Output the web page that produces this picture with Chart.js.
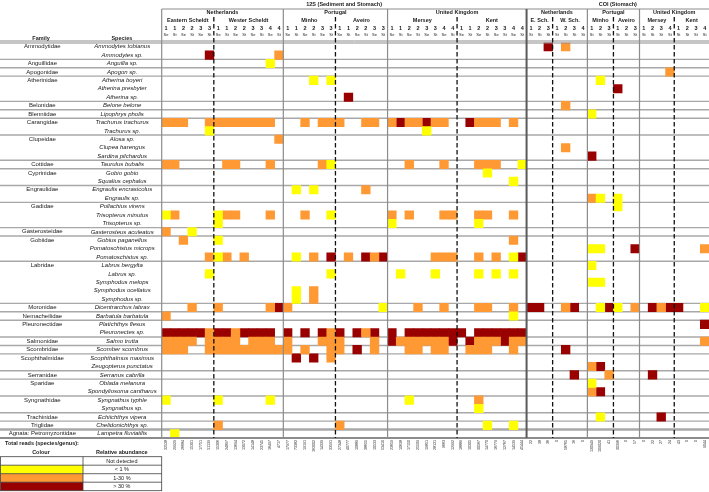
<!DOCTYPE html>
<html>
<head>
<meta charset="utf-8">
<title>Fish detections (12S and COI)</title>
<script src="https://cdn.jsdelivr.net/npm/chart.js@4.4.1/dist/chart.umd.min.js"></script>
<style>
html,body{margin:0;padding:0;background:#ffffff;}
canvas{display:block;}
</style>
</head>
<body>
<canvas id="chart" width="709" height="492"></canvas>
<script>
// ---------------- data ----------------
const familyNames = ['Ammodytidae','Anguillidae','Apogonidae','Atherinidae','Belonidae','Blenniidae','Carangidae','Clupeidae','Cottidae','Cyprinidae','Engraulidae','Gadidae','Gasterosteidae','Gobiidae','Labridae','Moronidae','Nemacheilidae','Pleuronectidae','Salmonidae','Scombridae','Scophthalmidae','Serranidae','Sparidae','Syngnathidae','Trachinidae','Triglidae','Agnata: Petromyzontidae'];
const familySizes = [2,1,1,3,1,1,2,3,1,2,2,3,1,3,5,1,1,2,1,1,2,1,2,2,1,1,1];
const species = ['Ammodytes tobianus','Ammodytes sp.','Anguilla sp.','Apogon sp.','Atherina boyeri','Atherina presbyter','Atherina sp.','Belone belone','Lipophrys pholis','Trachurus trachurus','Trachurus sp.','Alosa sp.','Clupea harengus','Sardina pilchardus','Taurulus bubalis','Gobio gobio','Squalius cephalus','Engraulis encrasicolus','Engraulis sp.','Pollachius virens','Trisopterus minutus','Trisopterus sp.','Gasterosteus aculeatus','Gobius paganellus','Pomatoschistus microps','Pomatoschistus sp.','Labrus bergylta','Labrus sp.','Symphodus melops','Symphodus ocellatus','Symphodus sp.','Dicentrarchus labrax','Barbatula barbatula','Platichthys flesus','Pleuronectes sp.','Salmo trutta','Scomber scombrus','Scophthalmus maximus','Zeugopterus punctatus','Serranus cabrilla','Oblada melanura','Spondyliosoma cantharus','Syngnathus typhle','Syngnathus sp.','Echiichthys vipera','Chelidonichthys sp.','Lampetra fluviatilis'];

const primers = ['12S (Sediment and Stomach)','COI (Stomach)'];
const primerCountries = [3,3];
const countries = ['Netherlands','Portugal','United Kingdom','Netherlands','Portugal','United Kingdom'];
const countrySites = [2,2,2,2,2,2];
const sites = ['Eastern Scheldt','Wester Scheldt','Minho','Aveiro','Mersey','Kent','E. Sch.','W. Sch.','Minho','Aveiro','Mersey','Kent'];
const siteSamples = [3,4,3,3,4,4,3,4,3,3,4,4];
const siteSampleTypes = [['Se','St'],['Se','St'],['Se','St'],['Se','St'],['Se','St'],['Se','St'],['St'],['St'],['St'],['St'],['St'],['St']];

const totalReads = [32538,29929,26684,15301,17751,51139,15306,24897,13694,13072,14148,23745,16497,4717,
  17977,73382,19191,163002,14339,33591,27348,40777,10889,38655,10533,53410,
  23659,10638,17150,25509,19851,28131,9663,12992,18889,10305,30567,14770,16779,12767,14539,45444,
  22,38,36,0,58765,16,0,130949,109020,41,30396,0,57,0,22,27,24,43,0,0,9044];

const abundanceClasses = ['Not detected','< 1 %','1-30 %','> 30 %'];
const classColours = ['#FFFFFF','#FFFF00','#FF9933','#990000'];

// one string per species; 0 = not detected, 1 = <1 %, 2 = 1-30 %, 3 = >30 %
//   ES     WS       Mi     Av     Me       Ke       cE  cW   cMi cAv cMe  cKe
const abundance = [
  '000000 00000000 000000 000000 00000000 00000000 003 0200 000 000 0000 0000',
  '000003 00000002 000000 000000 00000000 00000000 000 0000 000 000 0000 0000',
  '000000 00000010 000000 000000 00000000 00000000 000 0000 000 000 0000 0000',
  '000000 00000000 000000 000000 00000000 00000000 000 0000 000 000 0002 0000',
  '000000 00000000 000101 000000 00000000 00000000 000 0000 010 000 0000 0000',
  '000000 00000000 000000 000000 00000000 00000000 000 0000 000 300 0000 0000',
  '000000 00000000 000000 030000 00000000 00000000 000 0000 000 000 0000 0000',
  '000000 00000000 000000 000000 00000000 00000000 000 0200 000 000 0000 0000',
  '000000 00000000 000000 000000 00000000 00000000 000 0000 100 000 0000 0000',
  '222002 22222220 002022 200220 23223220 03222020 000 0000 000 000 0000 0000',
  '000001 00000000 000000 000000 00001000 00000000 000 0000 000 000 0000 0000',
  '000000 00000002 000000 000000 00000000 00000000 000 0000 000 000 0000 0000',
  '000000 00000000 000000 000000 00000000 00000000 000 0200 000 000 0000 0000',
  '000000 00000000 000000 000000 00000000 00000000 000 0000 300 000 0000 0000',
  '220000 02200020 000021 000000 00200020 00222001 000 0000 000 000 0000 0000',
  '000000 00000000 000000 000000 00000000 00010000 000 0000 000 000 0000 0000',
  '000000 00000000 000000 000000 00000000 00000010 000 0000 000 000 0000 0000',
  '000000 00000000 010100 000200 00000000 00000000 000 0000 000 000 0000 0000',
  '000000 00000000 000000 000000 00000000 00000000 000 0000 210 100 0000 0000',
  '000000 00000000 000000 000000 00000000 00000000 000 0000 000 100 0000 0000',
  '120000 12200020 002001 000000 20200022 00220020 000 0000 000 000 0000 0000',
  '000000 10000000 000000 000000 10000000 00100000 000 0000 000 000 0000 0000',
  '200100 00000000 000000 000000 00000000 00000000 000 0000 000 000 0000 0000',
  '002000 10000000 000000 000000 00000000 00000020 000 0000 000 000 0000 0000',
  '000000 00000000 000000 000000 00000000 00000000 000 0000 110 003 0000 0002',
  '000002 12020000 010203 020323 00000222 00202013 000 0000 000 000 0000 0000',
  '000000 00000000 000000 000000 00000000 00000000 000 0000 100 000 0000 0000',
  '000001 00000000 000001 000000 01000100 00101010 000 0000 000 000 0000 0000',
  '000000 00000000 000000 000000 00000000 00000000 000 0000 110 000 0000 0000',
  '000000 00000000 010200 000000 00000000 00000000 000 0000 000 000 0000 0000',
  '000000 00000000 010200 000000 00000000 00000000 000 0000 000 000 0000 0000',
  '000200 20000023 200000 000001 00020020 00220020 330 0230 013 102 0323 3001',
  '200000 00000000 000000 000000 00000000 00000010 000 0000 000 000 0000 0000',
  '000000 00000000 000000 000000 00000000 00000000 000 0000 000 000 0000 0003',
  '333332 33233330 303032 303230 30333333 30333333 000 0000 000 000 0000 0000',
  '222202 22202220 200022 200020 32222223 03222322 000 0000 000 000 0000 0002',
  '222002 22222222 202002 203020 00220220 02220020 000 0300 000 000 0000 0000',
  '000000 00000000 030302 000000 00000000 00000000 000 0000 000 000 0000 0000',
  '000000 00000000 000000 000000 00000000 00000000 000 0000 230 000 0000 0000',
  '000000 00000000 000000 000000 00000000 00000000 000 0030 002 000 0300 0000',
  '000000 00000000 000000 000000 00000000 00000000 000 0000 100 000 0000 0000',
  '000000 00000000 000000 000000 00000000 00000000 000 0000 230 000 0000 0000',
  '100000 10000010 000000 000000 00100000 00200000 000 0000 000 000 0000 0000',
  '000000 00000000 000000 000000 00000000 00100000 000 0000 000 000 0000 0000',
  '000000 00000000 000000 000000 00000000 00000000 000 0000 010 000 0030 0000',
  '000000 20000000 000000 200000 00000000 00010010 000 0000 000 000 0000 0000',
  '010000 00000000 000000 000000 00000000 00000000 000 0000 000 000 0000 0000'
];

// ---------------- derived tables ----------------
const colNum = [], colType = [], siteStart = [], siteEnd = [];
sites.forEach((s, i) => {
  siteStart.push(colNum.length);
  for (let n = 1; n <= siteSamples[i]; n++) {
    siteSampleTypes[i].forEach(t => { colNum.push(String(n)); colType.push(t); });
  }
  siteEnd.push(colNum.length);
});
const N = colNum.length;
const countryStart = [], countryEnd = [];
let si = 0;
countries.forEach((c, i) => { countryStart.push(siteStart[si]); si += countrySites[i]; countryEnd.push(siteEnd[si - 1]); });
const primerStart = [], primerEnd = [];
let ci = 0;
primers.forEach((p, i) => { primerStart.push(countryStart[ci]); ci += primerCountries[i]; primerEnd.push(countryEnd[ci - 1]); });

const familyPerRow = [];
familyNames.forEach((f, i) => { for (let k = 0; k < familySizes[i]; k++) familyPerRow.push(k === 0 ? f : ''); });

const rows = abundance.map(s => s.replace(/ /g, ''));
const datasets = [1, 2, 3].map(k => ({
  label: abundanceClasses[k],
  backgroundColor: classColours[k],
  borderWidth: 0,
  barPercentage: 1,
  categoryPercentage: 1,
  grouped: false,
  data: rows.flatMap((str, r) => [...str].map((ch, c) => ch === String(k) ? { x: [c, c + 1], y: species[r] } : null).filter(Boolean))
}));

// ---------------- chart ----------------
const FONT = "'Liberation Sans', Arial, sans-serif";
Chart.defaults.font.family = FONT;
Chart.defaults.color = '#1a1a1a';

const colCenters = colNum.map((_, i) => i + 0.5);
function topAxis(weight, height, pad, font, values, labelOf) {
  return {
    type: 'linear', position: 'top', weight, min: 0, max: N,
    grid: { display: false, drawTicks: false }, border: { display: false },
    afterBuildTicks: s => { s.ticks = values.map(v => ({ value: v })); },
    afterFit: s => { s.height = height; s.paddingLeft = 0; s.paddingRight = 0; },
    ticks: { autoSkip: false, maxRotation: 0, minRotation: 0, padding: pad, font, callback: (v, i) => labelOf(i) }
  };
}
const mid = (a, b) => (a + b) / 2;

function hline(ctx, x1, x2, y) { ctx.beginPath(); ctx.moveTo(x1, y); ctx.lineTo(x2, y); ctx.stroke(); }
function vline(ctx, x, y1, y2) { ctx.beginPath(); ctx.moveTo(x, y1); ctx.lineTo(x, y2); ctx.stroke(); }

const tablePlugin = {
  id: 'tablePlugin',
  beforeDatasetsDraw(chart) {
    const { ctx, scales: { y } } = chart;
    ctx.save();
    ctx.strokeStyle = '#a8a8a8';
    let r = 0;
    familySizes.forEach((n, i) => {
      r += n;
      if (r >= species.length) return;
      ctx.lineWidth = (i === familySizes.length - 2) ? 2.5 : 1.4;
      hline(ctx, 0, chart.width, y.getPixelForValue(r - 0.5));
    });
    ctx.restore();
  },
  afterDatasetsDraw(chart) {
    const { ctx, chartArea: a, scales } = chart;
    const x = scales.x;
    ctx.save();
    ctx.strokeStyle = '#8c8c8c';
    ctx.lineWidth = 1;
    hline(ctx, 0, chart.width, a.top - 1.5);
    hline(ctx, 0, chart.width, a.top + 0.5);
    ctx.lineWidth = 2;
    hline(ctx, 0, chart.width, a.bottom);
    const boxTop = scales.xCountry.top + 1;
    ctx.lineWidth = 1;
    hline(ctx, x.left, a.right, boxTop);
    countryStart.forEach(c => {
      const primerEdge = primerStart.includes(c) && c !== 0;
      ctx.lineWidth = primerEdge ? 2 : 1.2;
      ctx.strokeStyle = primerEdge ? '#5a5a5a' : '#8c8c8c';
      vline(ctx, x.getPixelForValue(c), boxTop, a.bottom);
    });
    ctx.setLineDash([4.5, 2.5]);
    ctx.strokeStyle = '#111111';
    ctx.lineWidth = 1.3;
    siteStart.forEach(c => {
      if (!countryStart.includes(c)) vline(ctx, x.getPixelForValue(c), scales.xSite.top + 1, a.bottom);
    });
    ctx.restore();
  },
  afterDraw(chart) {
    const { ctx, chartArea: a, scales } = chart;
    const fam = scales.yFam, sp = scales.y;
    const famMid = mid(fam.left, fam.right), spMid = mid(sp.left, sp.right);
    ctx.save();
    ctx.fillStyle = '#1a1a1a';
    ctx.textBaseline = 'middle';
    ctx.textAlign = 'center';
    ctx.font = 'bold 5.5px ' + FONT;
    ctx.fillText('Family', famMid, a.top - 4.5);
    ctx.fillText('Species', spMid, a.top - 4.5);
    ctx.textAlign = 'left';
    ctx.fillText('Total reads (species/genus):', 5, a.bottom + 5);
    ctx.textAlign = 'center';
    ctx.fillText('Colour', famMid, a.bottom + 14.5);
    ctx.fillText('Relative abundance', spMid, a.bottom + 14.5);
    const top = a.bottom + 18.7, rh = 8.5, left = 0.5, split = fam.right + 1, right = sp.right;
    abundanceClasses.forEach((lab, k) => {
      const yy = top + k * rh;
      if (k > 0) { ctx.fillStyle = classColours[k]; ctx.fillRect(left, yy, split - left, rh); }
      ctx.fillStyle = '#1a1a1a';
      ctx.font = '5.5px ' + FONT;
      ctx.fillText(lab, spMid, yy + rh / 2 + 0.3);
    });
    ctx.strokeStyle = '#404040';
    ctx.lineWidth = 0.8;
    ctx.strokeRect(left, top, right - left, rh * abundanceClasses.length);
    for (let k = 1; k < abundanceClasses.length; k++) hline(ctx, left, right, top + k * rh);
    vline(ctx, split, top, top + rh * abundanceClasses.length);
    ctx.restore();
  }
};

new Chart(document.getElementById('chart'), {
  type: 'bar',
  data: { datasets },
  plugins: [tablePlugin],
  options: {
    responsive: false,
    animation: false,
    events: [],
    indexAxis: 'y',
    layout: { padding: { left: 0, right: 0, top: 0, bottom: 0 } },
    plugins: { legend: { display: false }, tooltip: { enabled: false } },
    scales: {
      x: topAxis(0, 10.5, 5.6, { size: 4 }, colCenters, i => colType[i]),
      xNum: topAxis(1, 8, 0, { size: 5.5, weight: 'bold' }, colCenters, i => colNum[i]),
      xSite: topAxis(2, 8, 0, { size: 5.5, weight: 'bold' }, sites.map((s, i) => mid(siteStart[i], siteEnd[i])), i => sites[i]),
      xCountry: topAxis(3, 8, 0, { size: 5.5, weight: 'bold' }, countries.map((c, i) => mid(countryStart[i], countryEnd[i])), i => countries[i]),
      xPrimer: topAxis(4, 8, 0, { size: 5.5, weight: 'bold' }, primers.map((p, i) => mid(primerStart[i], primerEnd[i])), i => primers[i]),
      xTot: {
        type: 'linear', position: 'bottom', min: 0, max: N,
        grid: { display: false, drawTicks: false }, border: { display: false },
        afterBuildTicks: s => { s.ticks = colCenters.map(v => ({ value: v })); },
        afterFit: s => { s.height = 54; s.paddingLeft = 0; s.paddingRight = 0; },
        ticks: { autoSkip: false, minRotation: 90, maxRotation: 90, padding: 2, font: { size: 3.6 }, callback: (v, i) => String(totalReads[i]) }
      },
      y: {
        type: 'category', labels: species, position: 'left', weight: 0, offset: true,
        grid: { display: false, drawTicks: false }, border: { display: false },
        afterFit: s => { s.width = 79.7; s.paddingTop = 0; s.paddingBottom = 0; },
        ticks: { autoSkip: false, crossAlign: 'center', padding: 5, font: { size: 6, style: 'italic' } }
      },
      yFam: {
        type: 'category', labels: familyPerRow, position: 'left', weight: 1, offset: true,
        grid: { display: false, drawTicks: false }, border: { display: false },
        afterFit: s => { s.width = 82; s.paddingTop = 0; s.paddingBottom = 0; },
        ticks: { autoSkip: false, crossAlign: 'center', padding: 6, font: { size: 6 } }
      }
    }
  }
});
</script>
</body>
</html>
